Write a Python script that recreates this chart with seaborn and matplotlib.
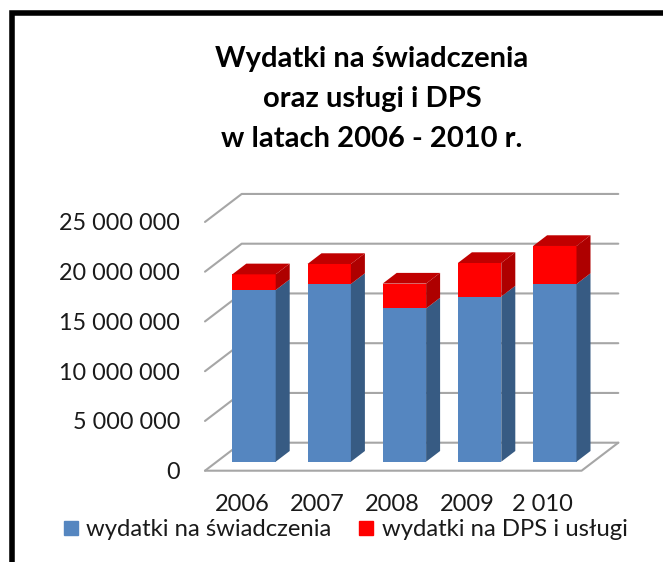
import matplotlib
matplotlib.use("Agg")
import matplotlib.pyplot as plt
from matplotlib.patches import Rectangle
from matplotlib.transforms import ScaledTranslation
import seaborn as sns

years = ['2006', '2007', '2008', '2009', '2 010']
swiadczenia = [17250000, 17860000, 15400000, 16600000, 17860000]
dps_uslugi = [1580000, 2010000, 2500000, 3370000, 3820000]
y_ticks = [0, 5000000, 10000000, 15000000, 20000000, 25000000]
y_labels = ['0', '5 000 000', '10 000 000', '15 000 000', '20 000 000', '25 000 000']
series_names = ['wydatki na świadczenia', 'wydatki na DPS i usługi']
title = 'Wydatki na świadczenia\noraz usługi i DPS\nw latach 2006 - 2010 r.'

W, H = 663, 562
BLUE, BLUE_SIDE = '#5586C0', '#375B83'
RED, RED_SIDE, RED_TOP = '#FF0000', '#AE0000', '#C00000'
GRID = '#A6A6A6'

sns.set_theme(style='white')
plt.rcParams['font.family'] = ['Lato', 'DejaVu Sans']

fig = plt.figure(figsize=(W / 100, H / 100), dpi=100, facecolor='white')

# both axes share the same box, bars sit a little in front of the floor edge
left, right, bottom, top = 205, 618.3, 470.7, 194
box = [left / W, 1 - bottom / H, (right - left) / W, (bottom - top) / H]
px_per_unit = 9.95e-6
xlim = ((left - 254) / 75.2, (right - 254) / 75.2)
ymax = (bottom - top) / px_per_unit
wall_dx, wall_dy = 36.7 / 75.2, 28 / px_per_unit
bar_dx, bar_dy = 14 / 75.2, 10.7 / px_per_unit
base = (bottom - 461.7) / px_per_unit
bar_width = 43.4 / 75.2

# walls and grid
wall = fig.add_axes(box)
wall.patch.set_visible(False)
for v in y_ticks:
    wall.plot([xlim[0], xlim[0] + wall_dx, xlim[1]], [v, v + wall_dy, v + wall_dy],
              color=GRID, lw=1.5, clip_on=False)
wall.plot([xlim[0], xlim[1] - wall_dx, xlim[1]], [0, 0, wall_dy], color=GRID, lw=1.5, clip_on=False)
wall.set_xlim(xlim)
wall.set_ylim(0, ymax)
wall.set_xticks([])
wall.set_yticks(y_ticks)
wall.set_yticklabels(y_labels, fontsize=16.8, color='#1a1a1a')
wall.tick_params(axis='y', length=0, pad=18)
sns.despine(ax=wall, left=True, bottom=True)

# bars
ax = fig.add_axes(box)
ax.patch.set_visible(False)
totals = [a + b for a, b in zip(swiadczenia, dps_uslugi)]
sns.barplot(x=years, y=totals, color=RED, saturation=1, width=bar_width, linewidth=0, ax=ax)
sns.barplot(x=years, y=swiadczenia, color=BLUE, saturation=1, width=bar_width, linewidth=0, ax=ax)

for i, (a, t) in enumerate(zip(swiadczenia, totals)):
    xr = i + bar_width / 2
    xl = i - bar_width / 2
    ax.fill([xr, xr + bar_dx, xr + bar_dx, xr], [0, bar_dy, a + bar_dy, a], color=BLUE_SIDE, lw=0)
    ax.fill([xr, xr + bar_dx, xr + bar_dx, xr], [a, a + bar_dy, t + bar_dy, t], color=RED_SIDE, lw=0)
    ax.fill([xl, xl + bar_dx, xr + bar_dx, xr], [t, t + bar_dy, t + bar_dy, t], color=RED_TOP, lw=0)

ax.set_xlim(xlim)
ax.set_ylim(-base, ymax - base)
ax.set_yticks([])
ax.set_ylabel('')
ax.tick_params(axis='x', length=0, pad=17, labelsize=17, labelcolor='#1a1a1a')
shift = ScaledTranslation(-12 / 100, 0, fig.dpi_scale_trans)
for lab in ax.get_xticklabels():
    lab.set_transform(lab.get_transform() + shift)
sns.despine(ax=ax, left=True, bottom=True)

handles = [Rectangle((0, 0), 1, 1, color=BLUE), Rectangle((0, 0), 1, 1, color=RED)]
fig.legend(handles, series_names, ncol=2, frameon=False, fontsize=17.2, labelcolor='#1a1a1a',
           loc='center left', bbox_to_anchor=(64 / W, 1 - 530 / H), borderaxespad=0, borderpad=0,
           handlelength=0.58, handleheight=0.58, handletextpad=0.36, columnspacing=1.15)

fig.text(372 / W, 1 - 99 / H, title, ha='center', va='center', fontsize=21, fontweight='bold',
         color='black', linespacing=1.65)

# black frame, runs off the right and bottom of the picture
fig.add_artist(Rectangle((12 / W, -0.05), 1.1, 1.05 - 13 / H, transform=fig.transFigure,
                         fill=False, edgecolor='black', lw=4))

fig.savefig('out.png', dpi=100)
